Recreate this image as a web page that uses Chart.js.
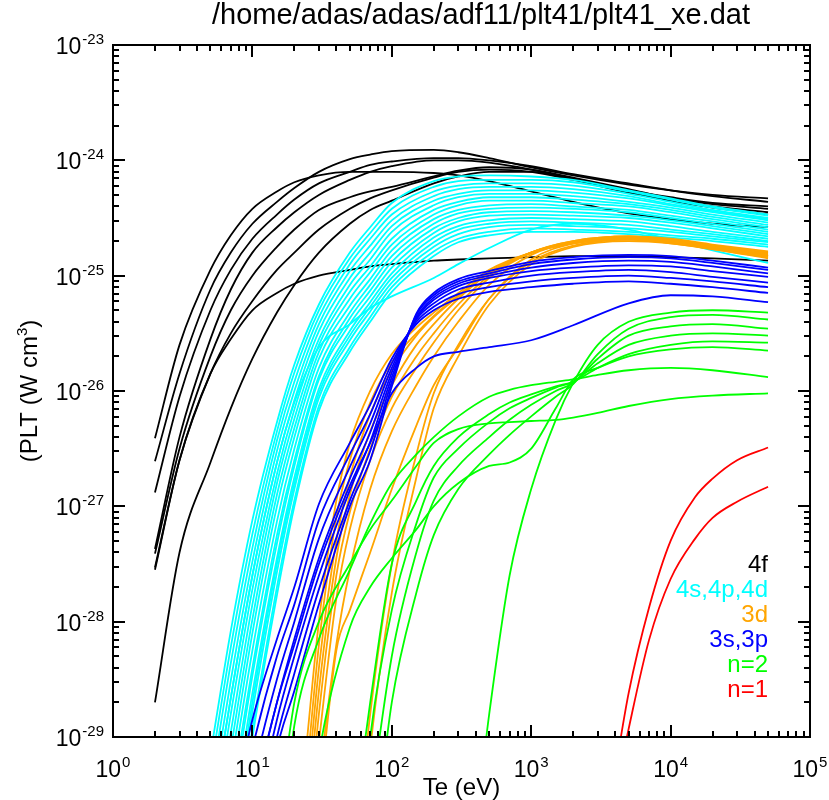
<!DOCTYPE html>
<html>
<head>
<meta charset="utf-8">
<title>plt41_xe</title>
<script src="https://cdn.jsdelivr.net/npm/chart.js@4.4.0/dist/chart.umd.min.js"></script>
<style>
  html, body { margin: 0; padding: 0; background: #ffffff; }
  #wrap { width: 829px; height: 800px; }
</style>
</head>
<body>
<div id="wrap"><canvas id="pltChart" width="829" height="800"></canvas></div>
<script>
// Te grids (eV) for each shell group
const TE_BLACK = [2, 3, 5, 7, 10, 15, 20, 30, 50, 70, 100, 200, 300, 500, 1000, 2000, 5000, 1e4, 2e4, 5e4];
const TE_CYAN = [5, 7, 10, 15, 20, 30, 50, 70, 100, 200, 300, 500, 1000, 2000, 5000, 1e4, 2e4, 5e4];
const TE_ORANGE = [20, 25, 30, 40, 50, 70, 100, 150, 200, 300, 500, 1000, 2000, 5000, 1e4, 2e4, 5e4];
const TE_BLUE = [7, 10, 15, 20, 30, 50, 70, 100, 150, 200, 300, 500, 1000, 2000, 5000, 1e4, 2e4, 5e4];
const TE_GREEN = [15, 20, 30, 50, 70, 100, 150, 200, 300, 500, 700, 1000, 1500, 2000, 3000, 5000, 1e4, 2e4, 5e4];
const TE_RED = [4000, 5000, 7000, 1e4, 1.5e4, 2e4, 3e4, 5e4];

// log10(PLT) for each ion
const LOG_4F = [
  [-26.41, -25.6, -24.95, -24.65, -24.42, -24.27, -24.19, -24.13, -24.1, -24.1, -24.1, -24.11, -24.13, -24.18, -24.27, -24.36, -24.46, -24.51, -24.55, -24.58],
  [-26.61, -25.85, -25.12, -24.8, -24.55, -24.36, -24.24, -24.1, -23.99, -23.95, -23.92, -23.91, -23.93, -23.98, -24.06, -24.13, -24.21, -24.26, -24.3, -24.33],
  [-26.88, -26.05, -25.3, -24.95, -24.68, -24.47, -24.34, -24.2, -24.1, -24.04, -24.01, -23.98, -23.98, -24.0, -24.05, -24.12, -24.2, -24.26, -24.31, -24.36],
  [-27.37, -26.4, -25.55, -25.12, -24.8, -24.58, -24.45, -24.3, -24.17, -24.1, -24.05, -24.0, -24.0, -24.02, -24.08, -24.16, -24.26, -24.32, -24.37, -24.4],
  [-27.41, -26.5, -25.7, -25.3, -25.0, -24.75, -24.6, -24.43, -24.32, -24.27, -24.23, -24.14, -24.09, -24.06, -24.08, -24.15, -24.25, -24.33, -24.38, -24.42],
  [-27.53, -26.6, -25.85, -25.5, -25.22, -24.95, -24.8, -24.6, -24.42, -24.33, -24.26, -24.15, -24.1, -24.08, -24.1, -24.17, -24.28, -24.35, -24.41, -24.47],
  [-28.7, -27.4, -26.62, -26.15, -25.72, -25.32, -25.08, -24.8, -24.55, -24.43, -24.35, -24.2, -24.14, -24.1, -24.1, -24.16, -24.27, -24.34, -24.4, -24.45],
  [-27.55, -26.6, -25.85, -25.55, -25.3, -25.15, -25.07, -25.0, -24.95, -24.92, -24.9, -24.87, -24.86, -24.85, -24.84, -24.83, -24.83, -24.84, -24.85, -24.87]
];

const LOG_4SPD = [
  [-29.15, -28.08, -27.12, -26.27, -25.77, -25.25, -24.8, -24.58, -24.37, -24.18, -24.14, -24.13, -24.14, -24.17, -24.26, -24.33, -24.4, -24.47],
  [-29.3, -28.22, -27.24, -26.35, -25.84, -25.3, -24.85, -24.63, -24.42, -24.23, -24.18, -24.17, -24.17, -24.19, -24.27, -24.34, -24.41, -24.48],
  [-29.45, -28.36, -27.36, -26.43, -25.92, -25.36, -24.9, -24.68, -24.47, -24.27, -24.22, -24.2, -24.2, -24.22, -24.29, -24.36, -24.43, -24.5],
  [-29.6, -28.51, -27.48, -26.52, -26.0, -25.42, -24.96, -24.74, -24.52, -24.31, -24.25, -24.23, -24.23, -24.25, -24.31, -24.38, -24.44, -24.51],
  [-29.75, -28.66, -27.6, -26.62, -26.08, -25.48, -25.02, -24.8, -24.57, -24.35, -24.29, -24.26, -24.26, -24.28, -24.33, -24.39, -24.45, -24.52],
  [-29.9, -28.8, -27.72, -26.72, -26.16, -25.55, -25.08, -24.86, -24.62, -24.39, -24.32, -24.29, -24.29, -24.31, -24.36, -24.41, -24.47, -24.54],
  [-30.05, -28.96, -27.85, -26.8, -26.24, -25.6, -25.14, -24.92, -24.68, -24.43, -24.36, -24.32, -24.32, -24.34, -24.38, -24.43, -24.49, -24.56],
  [-30.2, -29.1, -27.98, -26.9, -26.32, -25.66, -25.2, -24.97, -24.73, -24.47, -24.39, -24.35, -24.35, -24.37, -24.4, -24.45, -24.51, -24.58],
  [-30.35, -29.25, -28.1, -27.0, -26.4, -25.72, -25.26, -25.03, -24.78, -24.51, -24.43, -24.39, -24.38, -24.4, -24.43, -24.48, -24.53, -24.6],
  [-30.5, -29.4, -28.25, -27.13, -26.5, -25.8, -25.32, -25.08, -24.83, -24.55, -24.46, -24.42, -24.41, -24.42, -24.45, -24.5, -24.55, -24.62],
  [-30.65, -29.55, -28.4, -27.25, -26.6, -25.87, -25.37, -25.13, -24.88, -24.59, -24.5, -24.45, -24.44, -24.45, -24.48, -24.52, -24.57, -24.64],
  [-30.7, -29.65, -28.47, -27.32, -26.65, -25.9, -25.42, -25.18, -24.93, -24.63, -24.53, -24.48, -24.47, -24.48, -24.5, -24.54, -24.59, -24.66],
  [-30.85, -29.8, -28.62, -27.45, -26.75, -25.98, -25.48, -25.23, -24.98, -24.67, -24.57, -24.52, -24.5, -24.51, -24.53, -24.57, -24.62, -24.68],
  [-30.95, -29.9, -28.7, -27.5, -26.8, -26.02, -25.52, -25.27, -25.02, -24.71, -24.6, -24.55, -24.53, -24.54, -24.56, -24.6, -24.64, -24.7],
  [-31.0, -29.95, -28.78, -27.57, -26.85, -26.06, -25.56, -25.31, -25.06, -24.75, -24.64, -24.58, -24.56, -24.57, -24.59, -24.62, -24.66, -24.71],
  [-31.1, -30.1, -28.93, -27.7, -26.95, -26.13, -25.62, -25.36, -25.1, -24.79, -24.68, -24.62, -24.59, -24.6, -24.62, -24.65, -24.68, -24.73],
  [-31.2, -30.2, -29.0, -27.77, -27.0, -26.17, -25.66, -25.4, -25.14, -24.83, -24.71, -24.65, -24.62, -24.62, -24.64, -24.67, -24.7, -24.75],
  [-29.75, -28.66, -27.6, -26.62, -26.1, -25.62, -25.42, -25.28, -25.18, -25.02, -24.9, -24.76, -24.6, -24.55, -24.6, -24.69, -24.78, -24.89]
];

const LOG_3D = [
  [-30.2, -28.95, -28.0, -26.95, -26.45, -26.0, -25.68, -25.45, -25.32, -25.15, -24.95, -24.8, -24.72, -24.68, -24.72, -24.77, -24.84],
  [-30.5, -29.2, -28.2, -27.1, -26.6, -26.1, -25.75, -25.5, -25.35, -25.17, -24.97, -24.8, -24.72, -24.68, -24.71, -24.76, -24.83],
  [-30.6, -29.4, -28.4, -27.3, -26.75, -26.2, -25.82, -25.52, -25.36, -25.18, -24.97, -24.8, -24.71, -24.67, -24.7, -24.75, -24.82],
  [-30.8, -29.6, -28.6, -27.45, -26.9, -26.35, -25.95, -25.6, -25.42, -25.2, -24.98, -24.8, -24.71, -24.67, -24.7, -24.76, -24.83],
  [-31.0, -29.8, -28.8, -27.6, -27.05, -26.5, -26.05, -25.7, -25.5, -25.25, -25.0, -24.8, -24.7, -24.66, -24.69, -24.75, -24.81],
  [-31.2, -30.0, -29.05, -27.8, -27.2, -26.6, -26.15, -25.8, -25.58, -25.3, -25.02, -24.8, -24.7, -24.66, -24.69, -24.74, -24.8],
  [-31.5, -30.3, -29.4, -28.2, -27.55, -26.85, -26.35, -25.95, -25.7, -25.4, -25.08, -24.82, -24.71, -24.66, -24.68, -24.73, -24.79],
  [-31.8, -30.6, -29.6, -28.25, -27.9, -27.4, -26.85, -26.3, -25.95, -25.62, -25.2, -24.86, -24.72, -24.67, -24.69, -24.74, -24.8],
  [-33.0, -32.5, -32.0, -31.5, -31.0, -29.1, -27.75, -26.75, -26.15, -25.7, -25.25, -24.9, -24.75, -24.7, -24.72, -24.77, -24.85],
  [-33.0, -32.5, -32.0, -31.5, -30.5, -28.8, -27.5, -26.55, -26.02, -25.6, -25.2, -24.88, -24.74, -24.69, -24.71, -24.76, -24.83]
];

const LOG_3SP = [
  [-29.7, -28.85, -28.15, -27.7, -26.98, -26.45, -26.12, -25.72, -25.42, -25.3, -25.2, -25.14, -25.1, -25.07, -25.05, -25.07, -25.1, -25.15],
  [-30.0, -29.1, -28.3, -27.85, -27.12, -26.55, -26.2, -25.76, -25.4, -25.27, -25.16, -25.1, -25.05, -25.02, -25.0, -25.02, -25.05, -25.1],
  [-30.3, -29.35, -28.5, -28.0, -27.28, -26.66, -26.28, -25.8, -25.38, -25.24, -25.12, -25.06, -25.0, -24.97, -24.95, -24.97, -25.01, -25.06],
  [-30.6, -29.6, -28.7, -28.15, -27.45, -26.76, -26.36, -25.84, -25.37, -25.21, -25.09, -25.02, -24.96, -24.93, -24.91, -24.92, -24.96, -25.01],
  [-30.9, -29.85, -28.85, -28.3, -27.6, -26.86, -26.44, -25.88, -25.36, -25.19, -25.07, -25.0, -24.93, -24.89, -24.87, -24.88, -24.92, -24.98],
  [-31.2, -30.05, -29.0, -28.45, -27.72, -26.95, -26.52, -25.92, -25.34, -25.17, -25.05, -24.98, -24.9, -24.86, -24.84, -24.85, -24.89, -24.95],
  [-31.5, -30.3, -29.1, -28.6, -27.85, -27.0, -26.6, -25.96, -25.33, -25.15, -25.03, -24.96, -24.88, -24.84, -24.82, -24.83, -24.87, -24.93],
  [-30.6, -29.6, -28.7, -28.2, -27.5, -26.82, -26.45, -26.02, -25.8, -25.7, -25.66, -25.62, -25.56, -25.43, -25.24, -25.17, -25.18, -25.23]
];

const LOG_N2 = [
  [-33.0, -32.5, -32.0, -31.0, -30.2, -28.7, -27.75, -27.25, -26.85, -26.55, -26.38, -26.22, -26.05, -25.94, -25.68, -25.46, -25.36, -25.34, -25.38],
  [-33.0, -32.5, -32.0, -31.0, -29.6, -28.3, -27.4, -26.95, -26.65, -26.4, -26.25, -26.12, -26.0, -25.93, -25.72, -25.52, -25.44, -25.42, -25.46],
  [-33.0, -32.5, -32.0, -30.8, -29.0, -27.9, -27.15, -26.75, -26.5, -26.27, -26.15, -26.06, -25.97, -25.92, -25.76, -25.6, -25.52, -25.5, -25.52],
  [-33.0, -32.5, -32.0, -30.0, -28.7, -27.5, -26.95, -26.65, -26.4, -26.2, -26.1, -26.03, -25.96, -25.92, -25.8, -25.68, -25.6, -25.57, -25.58],
  [-31.5, -30.8, -29.15, -28.05, -27.7, -27.45, -27.2, -27.0, -26.8, -26.65, -26.62, -26.5, -26.15, -25.9, -25.8, -25.7, -25.64, -25.62, -25.65],
  [-30.2, -28.9, -28.15, -27.55, -27.15, -26.8, -26.55, -26.4, -26.22, -26.05, -25.99, -25.95, -25.92, -25.9, -25.86, -25.82, -25.8, -25.82, -25.88],
  [-29.8, -28.7, -28.0, -27.5, -27.2, -26.95, -26.65, -26.45, -26.33, -26.28, -26.27, -26.26, -26.25, -26.23, -26.19, -26.13, -26.07, -26.04, -26.02],
  [-34.0, -33.5, -33.0, -32.5, -32.0, -31.8, -31.6, -31.4, -31.0, -28.8, -27.6, -26.85, -26.25, -25.93, -25.6, -25.4, -25.32, -25.3, -25.32]
];

const LOG_N1 = [
  [-29.3, -28.62, -27.88, -27.3, -26.92, -26.76, -26.6, -26.49],
  [-29.5, -28.93, -28.16, -27.63, -27.28, -27.1, -26.96, -26.83]
];

// axis ticks and legend
const X_TICKS = [1, 10, 100, 1000, 1e4, 1e5];
const X_TICK_EXP = ["0", "1", "2", "3", "4", "5"];
const Y_TICKS = [1e-23, 1e-24, 1e-25, 1e-26, 1e-27, 1e-28, 1e-29];
const Y_TICK_EXP = ["-23", "-24", "-25", "-26", "-27", "-28", "-29"];
const LEGEND_LABELS = ["4f", "4s,4p,4d", "3d", "3s,3p", "n=2", "n=1"];
const LEGEND_COLORS = ["#000000", "#00ffff", "#ffa500", "#0000ff", "#00ff00", "#ff0000"];

const FONT = "'Liberation Sans', Arial, Helvetica, sans-serif";

// build line datasets from a Te grid and a block of log10 rows
function buildSeries(teList, logRows, color) {
  return logRows.map((row) => ({
    data: row.map((lp, i) => ({ x: teList[i], y: Math.pow(10, lp) })),
    borderColor: color,
    borderWidth: 1.8,
    pointRadius: 0,
    fill: false,
    cubicInterpolationMode: "monotone",
    clip: 0,
  }));
}

// first dataset ends up on top, so the highest ionisation stages go first
const datasets = [].concat(
  buildSeries(TE_RED, LOG_N1, LEGEND_COLORS[5]),
  buildSeries(TE_GREEN, LOG_N2, LEGEND_COLORS[4]),
  buildSeries(TE_BLUE, LOG_3SP, LEGEND_COLORS[3]),
  buildSeries(TE_ORANGE, LOG_3D, LEGEND_COLORS[2]),
  buildSeries(TE_CYAN, LOG_4SPD, LEGEND_COLORS[1]),
  buildSeries(TE_BLACK, LOG_4F, LEGEND_COLORS[0])
);

// draw "10" with a raised exponent
function drawPower(ctx, exp, xPos, yBase, align) {
  ctx.font = "23px " + FONT;
  const wb = ctx.measureText("10").width;
  ctx.font = "15px " + FONT;
  const we = ctx.measureText(exp).width;
  const x0 = align === "right" ? xPos - wb - we - 1 : xPos - (wb + we + 1) / 2;
  ctx.textAlign = "left";
  ctx.textBaseline = "alphabetic";
  ctx.font = "23px " + FONT;
  ctx.fillText("10", x0, yBase);
  ctx.font = "15px " + FONT;
  ctx.fillText(exp, x0 + wb + 1, yBase - 10);
}

// IDL-like box: frame, inward ticks on all sides, labels, legend
const idlFrame = {
  id: "idlFrame",
  afterDatasetsDraw(chart) {
    const { ctx, chartArea: a, scales } = chart;
    const xs = scales.x;
    const ys = scales.y;
    ctx.save();
    ctx.strokeStyle = "#000";
    ctx.fillStyle = "#000";
    ctx.lineWidth = 2;
    ctx.strokeRect(a.left, a.top, a.right - a.left, a.bottom - a.top);

    ctx.beginPath();
    X_TICKS.forEach((t, k) => {
      for (let m = 1; m <= 9; m++) {
        if (k === X_TICKS.length - 1 && m > 1) break;
        const px = Math.round(xs.getPixelForValue(t * m));
        const len = m === 1 ? 12 : 6;
        ctx.moveTo(px, a.bottom);
        ctx.lineTo(px, a.bottom - len);
        ctx.moveTo(px, a.top);
        ctx.lineTo(px, a.top + len);
      }
    });
    Y_TICKS.forEach((t) => {
      for (let m = 1; m <= 9; m++) {
        const v = t * m;
        if (v > Y_TICKS[0]) break;
        const py = Math.round(ys.getPixelForValue(v));
        const len = m === 1 ? 12 : 6;
        ctx.moveTo(a.left, py);
        ctx.lineTo(a.left + len, py);
        ctx.moveTo(a.right, py);
        ctx.lineTo(a.right - len, py);
      }
    });
    ctx.stroke();

    X_TICKS.forEach((t, k) => {
      drawPower(ctx, X_TICK_EXP[k], xs.getPixelForValue(t), a.bottom + 40, "center");
    });
    Y_TICKS.forEach((t, k) => {
      drawPower(ctx, Y_TICK_EXP[k], a.left - 9, ys.getPixelForValue(t) + 9, "right");
    });

    // title
    ctx.font = "29px " + FONT;
    ctx.textAlign = "center";
    ctx.textBaseline = "alphabetic";
    ctx.fillText("/home/adas/adas/adf11/plt41/plt41_xe.dat", 481, 24);

    // x title
    ctx.font = "24px " + FONT;
    ctx.fillText("Te (eV)", (a.left + a.right) / 2, 795);

    // y title (rotated)
    ctx.save();
    ctx.translate(37, (a.top + a.bottom) / 2);
    ctx.rotate(-Math.PI / 2);
    ctx.font = "24px " + FONT;
    const p1 = "(PLT (W cm";
    const w1 = ctx.measureText(p1).width;
    ctx.font = "15px " + FONT;
    const w2 = ctx.measureText("3").width;
    ctx.font = "24px " + FONT;
    const w3 = ctx.measureText(")").width;
    const x0 = -(w1 + w2 + w3) / 2;
    ctx.textAlign = "left";
    ctx.fillText(p1, x0, 0);
    ctx.font = "15px " + FONT;
    ctx.fillText("3", x0 + w1, -10);
    ctx.font = "24px " + FONT;
    ctx.fillText(")", x0 + w1 + w2, 0);
    ctx.restore();

    // legend text, right aligned
    ctx.font = "24px " + FONT;
    ctx.textAlign = "right";
    ctx.textBaseline = "middle";
    LEGEND_LABELS.forEach((lab, i) => {
      ctx.fillStyle = LEGEND_COLORS[i];
      ctx.fillText(lab, 768, 565 + i * 25);
    });
    ctx.restore();
  },
};

const pltChart = new Chart(document.getElementById("pltChart"), {
  type: "line",
  data: { datasets: datasets },
  options: {
    responsive: false,
    animation: false,
    devicePixelRatio: 1,
    layout: { padding: { left: 113, top: 45, right: 19, bottom: 63 } },
    plugins: {
      legend: { display: false },
      title: { display: false },
      tooltip: { enabled: false },
    },
    events: [],
    scales: {
      x: { type: "logarithmic", min: 1, max: 1e5, display: false },
      y: { type: "logarithmic", min: 1e-29, max: 1e-23, display: false },
    },
  },
  plugins: [idlFrame],
});
</script>
</body>
</html>
